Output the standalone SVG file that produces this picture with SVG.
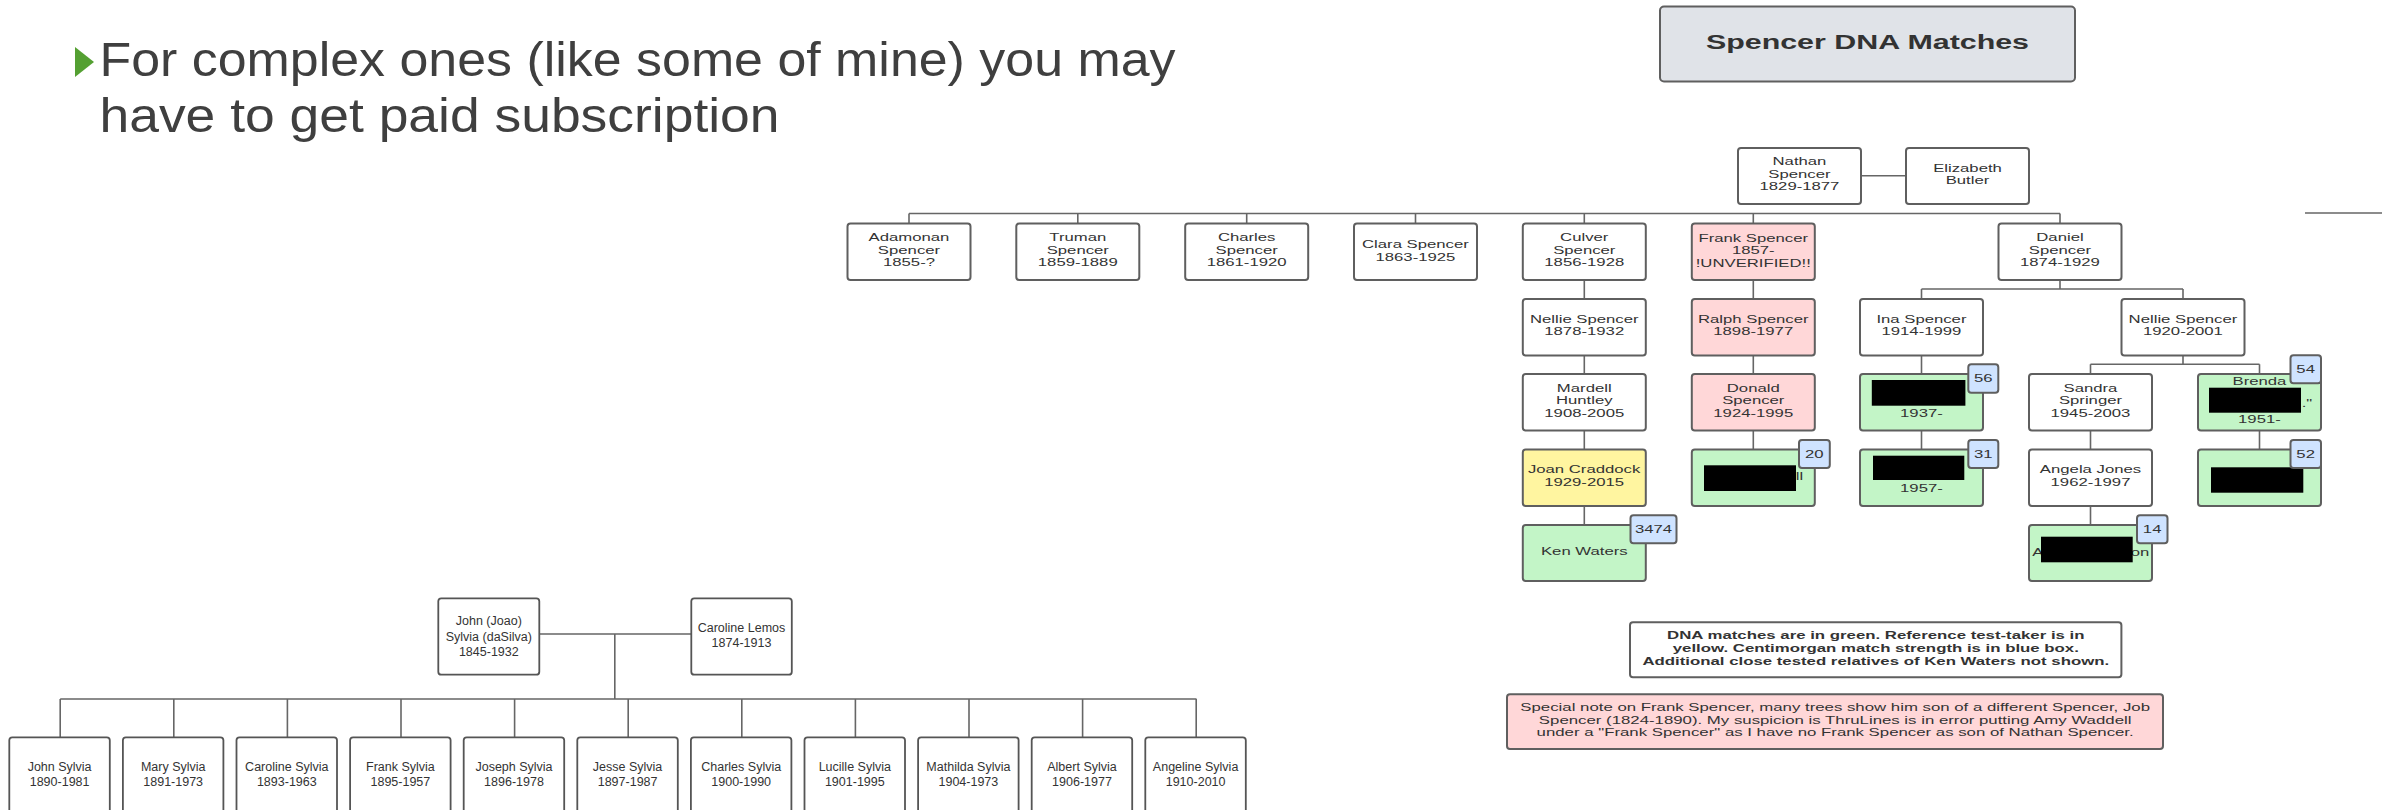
<svg xmlns="http://www.w3.org/2000/svg" width="2390" height="810" viewBox="0 0 2390 810">
<style>
.t{font-family:"Liberation Sans",Arial,sans-serif;font-size:11px;fill:#333;text-anchor:middle}
.x{transform-box:fill-box;transform-origin:center;transform:scaleX(1.52)}
.xn{transform-box:fill-box;transform-origin:center;transform:scaleX(1.6)}
.sy{font-family:"Liberation Sans",Arial,sans-serif;font-size:12.5px;fill:#333;text-anchor:middle}
.b{fill:#fff;stroke:#5f5f5f;stroke-width:2}
.sb{fill:#fff;stroke:#555;stroke-width:1.8}
.pk{fill:#ffd7d8}
.gr{fill:#c3f5c7}
.yl{fill:#fff5a0}
.bl{fill:#cfe3ff}
.ln{stroke:#666;stroke-width:1.6;fill:none}
.blk{fill:#000}
.bullet{font-family:"Liberation Sans",Arial,sans-serif;font-size:48px;fill:#3f3f3f}
</style>

<!-- Bullet text -->
<g id="bullet">
<polygon points="75,47 94,62 75,77" fill="#54a032"/>
<text class="bullet" x="99.5" y="76" textLength="1076" lengthAdjust="spacingAndGlyphs">For complex ones (like some of mine) you may</text>
<text class="bullet" x="99.5" y="132" textLength="680" lengthAdjust="spacingAndGlyphs">have to get paid subscription</text>
</g>

<!-- Connectors -->
<g id="connectors" class="ln">
<path d="M1861,175.7H1906"/>
<path d="M909,213.5H2060M909,213.5V223.5M1077.8,213.5V223.5M1246.7,213.5V223.5M1415.5,213.5V223.5M1584.3,213.5V223.5M1753.3,213.5V223.5M2060,213.5V223.5"/>
<path d="M2305,213H2382"/>
<path d="M1584.3,280V299M1584.3,355.5V374M1584.3,430.5V449.5M1584.3,506V525"/>
<path d="M1753.3,280V299M1753.3,355.5V374M1753.3,430.5V449.5"/>
<path d="M2060,280V289M1921.5,289H2183M1921.5,289V299M2183,289V299"/>
<path d="M1921.5,355.5V374M1921.5,430.5V449.5"/>
<path d="M2183,355.5V364.3M2090.5,364.3H2259.5M2090.5,364.3V374M2259.5,364.3V374"/>
<path d="M2090.5,430.5V449.5M2090.5,506V525"/>
<path d="M2259.5,430.5V449.5"/>
<path d="M539.3,634H691.3M614.8,634V699M60.2,699H1196.5"/>
<path d="M60.2,699V737.3M173.8,699V737.3M287.4,699V737.3M401,699V737.3M514.6,699V737.3M628.2,699V737.3M741.8,699V737.3M855.4,699V737.3M969,699V737.3M1082.6,699V737.3M1196.2,699V737.3"/>
</g>

<!-- Title -->
<g id="title">
<rect class="b" x="1660" y="6.5" width="415" height="75" rx="4" style="fill:#e0e3e8"/>
<text class="t x" x="1867.5" y="49" style="font-size:20px;font-weight:bold">Spencer DNA Matches</text>
</g>

<!-- Spencer tree nodes -->
<g id="nathan"><rect class="b" x="1738" y="148" width="123" height="56" rx="3"/>
<text class="t x" x="1799.5"><tspan x="1799.5" y="165.5">Nathan</tspan><tspan x="1799.5" y="178">Spencer</tspan><tspan x="1799.5" y="190.5">1829-1877</tspan></text></g>
<g id="elizabeth"><rect class="b" x="1906" y="148" width="123" height="56" rx="3"/>
<text class="t x" x="1967.5"><tspan x="1967.5" y="172">Elizabeth</tspan><tspan x="1967.5" y="184.5">Butler</tspan></text></g>

<g id="adamonan"><rect class="b" x="847.5" y="223.5" width="123" height="56.5" rx="3"/>
<text class="t x" x="909"><tspan x="909" y="241.1">Adamonan</tspan><tspan x="909" y="253.7">Spencer</tspan><tspan x="909" y="266.1">1855-?</tspan></text></g>
<g id="truman"><rect class="b" x="1016.3" y="223.5" width="123" height="56.5" rx="3"/>
<text class="t x" x="1077.8"><tspan x="1077.8" y="241.1">Truman</tspan><tspan x="1077.8" y="253.7">Spencer</tspan><tspan x="1077.8" y="266.1">1859-1889</tspan></text></g>
<g id="charles"><rect class="b" x="1185.2" y="223.5" width="123" height="56.5" rx="3"/>
<text class="t x" x="1246.7"><tspan x="1246.7" y="241.1">Charles</tspan><tspan x="1246.7" y="253.7">Spencer</tspan><tspan x="1246.7" y="266.1">1861-1920</tspan></text></g>
<g id="clara"><rect class="b" x="1354" y="223.5" width="123" height="56.5" rx="3"/>
<text class="t x" x="1415.5"><tspan x="1415.5" y="247.9">Clara Spencer</tspan><tspan x="1415.5" y="260.6">1863-1925</tspan></text></g>
<g id="culver"><rect class="b" x="1522.8" y="223.5" width="123" height="56.5" rx="3"/>
<text class="t x" x="1584.3"><tspan x="1584.3" y="241.1">Culver</tspan><tspan x="1584.3" y="253.7">Spencer</tspan><tspan x="1584.3" y="266.1">1856-1928</tspan></text></g>
<g id="frank"><rect class="b pk" x="1691.8" y="223.5" width="123" height="56.5" rx="3"/>
<text class="t x" x="1753.3"><tspan x="1753.3" y="241.6">Frank Spencer</tspan><tspan x="1753.3" y="253.9">1857-</tspan><tspan x="1753.3" y="266.6">!UNVERIFIED!!</tspan></text></g>
<g id="daniel"><rect class="b" x="1998.5" y="223.5" width="123" height="56.5" rx="3"/>
<text class="t x" x="2060"><tspan x="2060" y="241.1">Daniel</tspan><tspan x="2060" y="253.7">Spencer</tspan><tspan x="2060" y="266.1">1874-1929</tspan></text></g>

<g id="nellie1"><rect class="b" x="1522.8" y="299" width="123" height="56.5" rx="3"/>
<text class="t x" x="1584.3"><tspan x="1584.3" y="323">Nellie Spencer</tspan><tspan x="1584.3" y="335.3">1878-1932</tspan></text></g>
<g id="ralph"><rect class="b pk" x="1691.8" y="299" width="123" height="56.5" rx="3"/>
<text class="t x" x="1753.3"><tspan x="1753.3" y="323">Ralph Spencer</tspan><tspan x="1753.3" y="335.3">1898-1977</tspan></text></g>
<g id="ina"><rect class="b" x="1860" y="299" width="123" height="56.5" rx="3"/>
<text class="t x" x="1921.5"><tspan x="1921.5" y="323">Ina Spencer</tspan><tspan x="1921.5" y="335.3">1914-1999</tspan></text></g>
<g id="nellie2"><rect class="b" x="2121.5" y="299" width="123" height="56.5" rx="3"/>
<text class="t x" x="2183"><tspan x="2183" y="323">Nellie Spencer</tspan><tspan x="2183" y="335.3">1920-2001</tspan></text></g>

<g id="mardell"><rect class="b" x="1522.8" y="374" width="123" height="56.5" rx="3"/>
<text class="t x" x="1584.3"><tspan x="1584.3" y="391.6">Mardell</tspan><tspan x="1584.3" y="404.2">Huntley</tspan><tspan x="1584.3" y="416.6">1908-2005</tspan></text></g>
<g id="donald"><rect class="b pk" x="1691.8" y="374" width="123" height="56.5" rx="3"/>
<text class="t x" x="1753.3"><tspan x="1753.3" y="391.6">Donald</tspan><tspan x="1753.3" y="404.2">Spencer</tspan><tspan x="1753.3" y="416.6">1924-1995</tspan></text></g>
<g id="ina-child"><rect class="b gr" x="1860" y="374" width="123" height="56.5" rx="3"/>
<text class="t x" x="1921.5" y="416.6">1937-</text>
<rect class="blk" x="1871.8" y="380" width="93.6" height="25.7"/>
<rect class="b bl" x="1968.3" y="364.3" width="30" height="28.4" rx="3"/>
<text class="t x" x="1983.3" y="382.5">56</text></g>
<g id="sandra"><rect class="b" x="2029" y="374" width="123" height="56.5" rx="3"/>
<text class="t x" x="2090.5"><tspan x="2090.5" y="391.6">Sandra</tspan><tspan x="2090.5" y="404.2">Springer</tspan><tspan x="2090.5" y="416.6">1945-2003</tspan></text></g>
<g id="brenda"><rect class="b gr" x="2198" y="374" width="123" height="56.5" rx="3"/>
<text class="t x" x="2259.5" y="385">Brenda</text>
<text class="t x" x="2307" y="407">."</text>
<text class="t x" x="2259.5" y="423.3">1951-</text>
<rect class="blk" x="2209" y="387.7" width="92" height="25"/>
<rect class="b bl" x="2290.5" y="355.3" width="30.5" height="28" rx="3"/>
<text class="t x" x="2305.7" y="373.3">54</text></g>

<g id="joan"><rect class="b yl" x="1522.8" y="449.5" width="123" height="56.5" rx="3"/>
<text class="t x" x="1584.3"><tspan x="1584.3" y="473.2">Joan Craddock</tspan><tspan x="1584.3" y="485.9">1929-2015</tspan></text></g>
<g id="frank-match"><rect class="b gr" x="1691.8" y="449.5" width="123" height="56.5" rx="3"/>
<text class="t x" x="1799.4" y="480">ll</text>
<rect class="blk" x="1704" y="465.3" width="92" height="25.7"/>
<rect class="b bl" x="1799" y="440" width="30.8" height="28" rx="3"/>
<text class="t x" x="1814.4" y="458">20</text></g>
<g id="ina-grandchild"><rect class="b gr" x="1860" y="449.5" width="123" height="56.5" rx="3"/>
<text class="t x" x="1921.5" y="491.6">1957-</text>
<rect class="blk" x="1873" y="455.7" width="91.3" height="24.3"/>
<rect class="b bl" x="1968.3" y="440" width="30" height="28" rx="3"/>
<text class="t x" x="1983.3" y="458">31</text></g>
<g id="angela"><rect class="b" x="2029" y="449.5" width="123" height="56.5" rx="3"/>
<text class="t x" x="2090.5"><tspan x="2090.5" y="473.2">Angela Jones</tspan><tspan x="2090.5" y="485.9">1962-1997</tspan></text></g>
<g id="brenda-child"><rect class="b gr" x="2198" y="449.5" width="123" height="56.5" rx="3"/>
<rect class="blk" x="2211" y="467.3" width="92.3" height="25.4"/>
<rect class="b bl" x="2290.5" y="440" width="30.5" height="28" rx="3"/>
<text class="t x" x="2305.7" y="458">52</text></g>

<g id="ken"><rect class="b gr" x="1522.8" y="525" width="123" height="56" rx="3"/>
<text class="t x" x="1584.3" y="555">Ken Waters</text>
<rect class="b bl" x="1630.5" y="515.3" width="46" height="28" rx="3"/>
<text class="t x" x="1653.5" y="533.3">3474</text></g>
<g id="angela-child"><rect class="b gr" x="2029" y="525" width="123" height="56" rx="3"/>
<text class="t x" x="2038" y="555.6">A</text>
<text class="t x" x="2140" y="555.6">on</text>
<rect class="blk" x="2041" y="536.7" width="91.7" height="25.6"/>
<rect class="b bl" x="2137" y="515.3" width="30.5" height="28" rx="3"/>
<text class="t x" x="2152.2" y="533.3">14</text></g>

<!-- Notes -->
<g id="legend"><rect class="b" x="1630" y="622.3" width="491.4" height="55" rx="3"/>
<text class="t xn" x="1875.8" style="font-size:10.5px;font-weight:bold"><tspan x="1875.8" y="639">DNA matches are in green. Reference test-taker is in</tspan><tspan x="1875.8" y="652">yellow. Centimorgan match strength is in blue box.</tspan><tspan x="1875.8" y="664.6">Additional close tested relatives of Ken Waters not shown.</tspan></text></g>
<g id="note"><rect class="b pk" x="1507" y="694.3" width="656" height="54.7" rx="3"/>
<text class="t xn" x="1835.2" style="font-size:10.5px"><tspan x="1835.2" y="711.5">Special note on Frank Spencer, many trees show him son of a different Spencer, Job</tspan><tspan x="1835.2" y="723.8">Spencer (1824-1890). My suspicion is ThruLines is in error putting Amy Waddell</tspan><tspan x="1835.2" y="736.5">under a "Frank Spencer" as I have no Frank Spencer as son of Nathan Spencer.</tspan></text></g>

<!-- Sylvia tree -->
<g id="john-joao"><rect class="sb" x="438.3" y="598.3" width="101" height="76.4" rx="3"/>
<text class="sy" x="488.8"><tspan x="488.8" y="625.4">John (Joao)</tspan><tspan x="488.8" y="641">Sylvia (daSilva)</tspan><tspan x="488.8" y="656">1845-1932</tspan></text></g>
<g id="caroline-lemos"><rect class="sb" x="691.3" y="598.3" width="100.5" height="76.4" rx="3"/>
<text class="sy" x="741.5"><tspan x="741.5" y="631.7">Caroline Lemos</tspan><tspan x="741.5" y="646.7">1874-1913</tspan></text></g>

<g id="john-sylvia"><rect class="sb" x="9.3" y="737.3" width="100.5" height="90" rx="3"/>
<text class="sy" x="59.6"><tspan x="59.6" y="771">John Sylvia</tspan><tspan x="59.6" y="786.3">1890-1981</tspan></text></g>
<g id="mary-sylvia"><rect class="sb" x="122.9" y="737.3" width="100.5" height="90" rx="3"/>
<text class="sy" x="173.2"><tspan x="173.2" y="771">Mary Sylvia</tspan><tspan x="173.2" y="786.3">1891-1973</tspan></text></g>
<g id="caroline-sylvia"><rect class="sb" x="236.5" y="737.3" width="100.5" height="90" rx="3"/>
<text class="sy" x="286.8"><tspan x="286.8" y="771">Caroline Sylvia</tspan><tspan x="286.8" y="786.3">1893-1963</tspan></text></g>
<g id="frank-sylvia"><rect class="sb" x="350.1" y="737.3" width="100.5" height="90" rx="3"/>
<text class="sy" x="400.4"><tspan x="400.4" y="771">Frank Sylvia</tspan><tspan x="400.4" y="786.3">1895-1957</tspan></text></g>
<g id="joseph-sylvia"><rect class="sb" x="463.7" y="737.3" width="100.5" height="90" rx="3"/>
<text class="sy" x="514"><tspan x="514" y="771">Joseph Sylvia</tspan><tspan x="514" y="786.3">1896-1978</tspan></text></g>
<g id="jesse-sylvia"><rect class="sb" x="577.3" y="737.3" width="100.5" height="90" rx="3"/>
<text class="sy" x="627.6"><tspan x="627.6" y="771">Jesse Sylvia</tspan><tspan x="627.6" y="786.3">1897-1987</tspan></text></g>
<g id="charles-sylvia"><rect class="sb" x="690.9" y="737.3" width="100.5" height="90" rx="3"/>
<text class="sy" x="741.2"><tspan x="741.2" y="771">Charles Sylvia</tspan><tspan x="741.2" y="786.3">1900-1990</tspan></text></g>
<g id="lucille-sylvia"><rect class="sb" x="804.5" y="737.3" width="100.5" height="90" rx="3"/>
<text class="sy" x="854.8"><tspan x="854.8" y="771">Lucille Sylvia</tspan><tspan x="854.8" y="786.3">1901-1995</tspan></text></g>
<g id="mathilda-sylvia"><rect class="sb" x="918.1" y="737.3" width="100.5" height="90" rx="3"/>
<text class="sy" x="968.4"><tspan x="968.4" y="771">Mathilda Sylvia</tspan><tspan x="968.4" y="786.3">1904-1973</tspan></text></g>
<g id="albert-sylvia"><rect class="sb" x="1031.7" y="737.3" width="100.5" height="90" rx="3"/>
<text class="sy" x="1082"><tspan x="1082" y="771">Albert Sylvia</tspan><tspan x="1082" y="786.3">1906-1977</tspan></text></g>
<g id="angeline-sylvia"><rect class="sb" x="1145.3" y="737.3" width="100.5" height="90" rx="3"/>
<text class="sy" x="1195.6"><tspan x="1195.6" y="771">Angeline Sylvia</tspan><tspan x="1195.6" y="786.3">1910-2010</tspan></text></g>
</svg>
